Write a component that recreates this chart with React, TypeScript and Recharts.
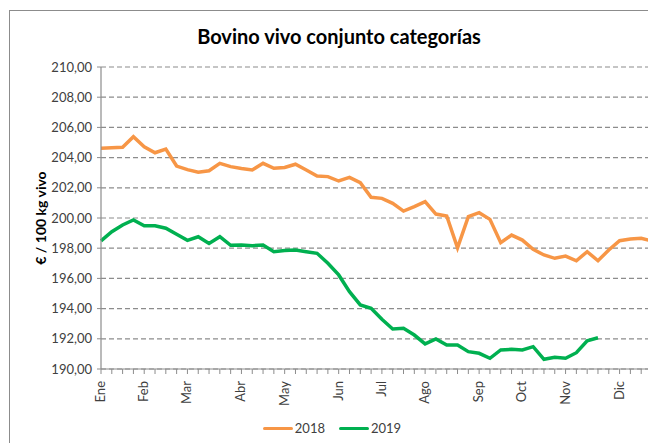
import { CartesianGrid, Legend, Line, LineChart, XAxis, YAxis } from "recharts";

// weekly average price, € / 100 kg vivo
const prices2018 = [
	204.62, 204.65, 204.68, 205.38, 204.72, 204.32, 204.57, 203.44, 203.2, 203.03,
	203.13, 203.62, 203.4, 203.28, 203.18, 203.62, 203.29, 203.35, 203.56, 203.18,
	202.78, 202.74, 202.45, 202.69, 202.34, 201.37, 201.3, 200.97, 200.46, 200.75,
	201.08, 200.26, 200.13, 198.03, 200.09, 200.35, 199.91, 198.37, 198.87, 198.54,
	197.93, 197.55, 197.33, 197.48, 197.17, 197.77, 197.17, 197.88, 198.5, 198.61,
	198.66, 198.48,
];

const prices2019 = [
	198.48, 199.09, 199.54, 199.87, 199.49, 199.49, 199.32, 198.92, 198.52, 198.76,
	198.32, 198.76, 198.19, 198.21, 198.17, 198.21, 197.77, 197.84, 197.88, 197.77,
	197.66, 197.0, 196.23, 195.12, 194.24, 194.02, 193.29, 192.65, 192.7, 192.25,
	191.66, 191.99, 191.59, 191.59, 191.15, 191.04, 190.71, 191.26, 191.3, 191.26,
	191.48, 190.64, 190.78, 190.71, 191.08, 191.87, 192.07,
];

const monthLabels: Record<number, string> = {
	0: "Ene",
	4: "Feb",
	8: "Mar",
	13: "Abr",
	17: "May",
	22: "Jun",
	26: "Jul",
	30: "Ago",
	35: "Sep",
	39: "Oct",
	43: "Nov",
	48: "Dic",
};

const yTicks = [190, 192, 194, 196, 198, 200, 202, 204, 206, 208, 210];

const series = [
	{ key: "y2018", name: "2018", color: "#F79646" },
	{ key: "y2019", name: "2019", color: "#00B050" },
];

const data = prices2018.map((v, i) => ({
	week: i,
	y2018: v,
	y2019: prices2019[i],
}));

const weekTicks = data.map((d) => d.week);

const FONT = "Lato, 'Liberation Sans', sans-serif";

function MonthTick({ x, y, payload }: any) {
	const label = monthLabels[payload.value];
	if (!label) return null;
	const ty = y + 5;
	return (
		<text
			x={x}
			y={ty}
			dy={4}
			transform={`rotate(-90, ${x}, ${ty})`}
			textAnchor="end"
			fontSize={13}
			fill="#404040"
			fontFamily={FONT}
		>
			{label}
		</text>
	);
}

function LegendBox() {
	return (
		<div
			style={{
				height: 30,
				display: "flex",
				justifyContent: "center",
				alignItems: "center",
				paddingLeft: 16,
				fontFamily: FONT,
				fontSize: 13,
				color: "#404040",
			}}
		>
			{series.map((s) => (
				<div
					key={s.key}
					style={{ display: "flex", alignItems: "center", marginRight: 14 }}
				>
					<span
						style={{
							display: "inline-block",
							width: 30,
							height: 3,
							background: s.color,
							borderRadius: 2,
							marginRight: 2,
						}}
					/>
					<span>{s.name}</span>
				</div>
			))}
		</div>
	);
}

export default function App() {
	return (
		<div
			style={{
				position: "relative",
				marginLeft: 1,
				marginTop: 2,
				width: 646,
				height: 432,
				borderLeft: "1px solid #8c8c8c",
				borderTop: "1px solid #8c8c8c",
				background: "#fff",
			}}
		>
			<div
				style={{
					position: "absolute",
					left: 0,
					top: 13,
					width: 658,
					textAlign: "center",
					fontFamily: FONT,
					fontWeight: 700,
					fontSize: 20,
					color: "#000",
				}}
			>
				Bovino vivo conjunto categorías
			</div>
			<LineChart
				width={646}
				height={432}
				data={data}
				margin={{ top: 56, right: 4, left: 0, bottom: 0 }}
			>
				<CartesianGrid
					vertical={false}
					stroke="#8c8c8c"
					strokeDasharray="5 3"
					strokeWidth={1.2}
				/>
				<XAxis
					type="number"
					dataKey="week"
					domain={[0, 51]}
					ticks={weekTicks}
					interval={0}
					height={44}
					tickSize={5}
					axisLine={{ stroke: "#8c8c8c", strokeWidth: 1.2 }}
					tickLine={{ stroke: "#8c8c8c" }}
					tick={<MonthTick />}
				/>
				<YAxis
					domain={[190, 210]}
					ticks={yTicks}
					width={91}
					tickSize={4}
					tickMargin={5}
					axisLine={{ stroke: "#8c8c8c", strokeWidth: 1.2 }}
					tickLine={{ stroke: "#8c8c8c" }}
					tick={{ fontSize: 13, fill: "#404040", fontFamily: FONT }}
					tickFormatter={(v: number) => v.toFixed(2).replace(".", ",")}
					label={{
						value: "€ / 100 kg vivo",
						angle: -90,
						position: "insideLeft",
						offset: 31,
						style: {
							textAnchor: "middle",
							fontSize: 14,
							fontWeight: 700,
							fill: "#000",
							fontFamily: FONT,
						},
					}}
				/>
				{series.map((s) => (
					<Line
						key={s.key}
						type="linear"
						dataKey={s.key}
						name={s.name}
						stroke={s.color}
						strokeWidth={3.5}
						dot={false}
						connectNulls={false}
						isAnimationActive={false}
					/>
				))}
				<Legend verticalAlign="bottom" content={<LegendBox />} />
			</LineChart>
		</div>
	);
}
